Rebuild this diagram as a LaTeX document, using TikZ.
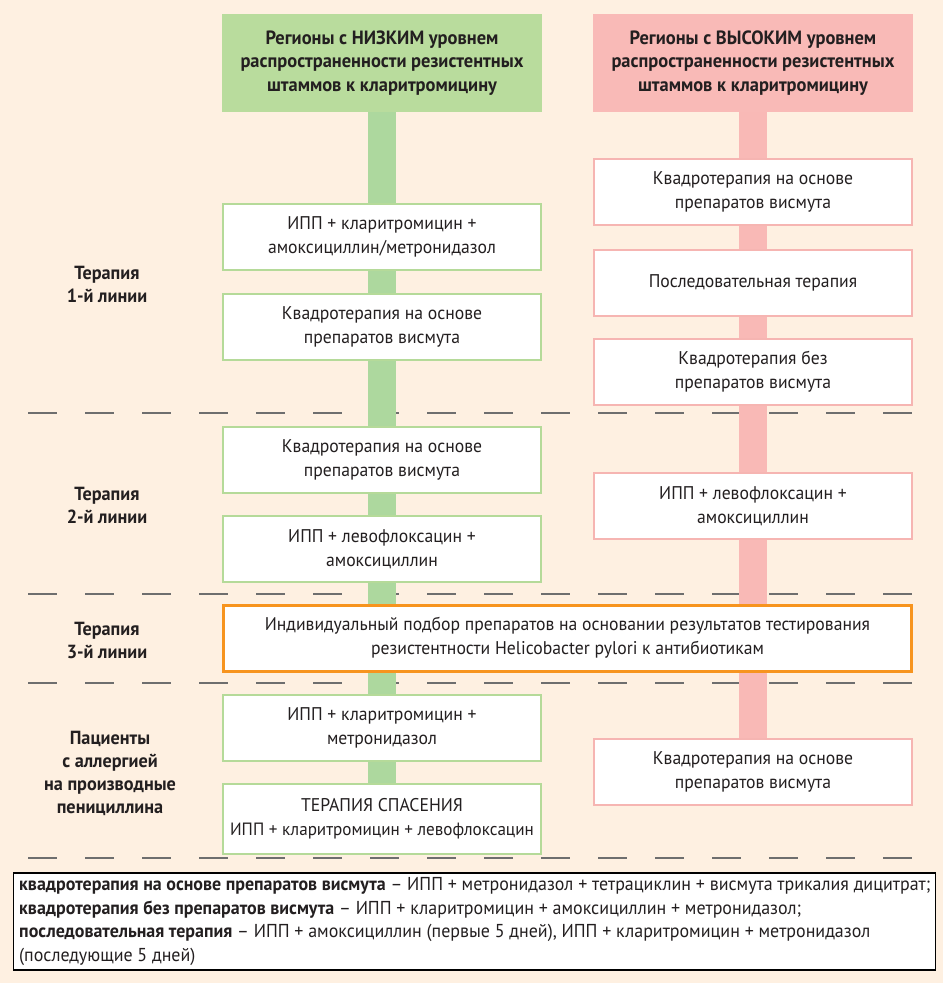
\documentclass[tikz,border=0pt]{standalone}
\usepackage{fontspec}
\setmainfont{PT Sans}[FakeStretch=0.96]
\definecolor{bgc}{HTML}{FEF0E1}
\definecolor{ghead}{HTML}{B9DC9D}
\definecolor{gbar}{HTML}{ADD89E}
\definecolor{gline}{HTML}{B5DA99}
\definecolor{rhead}{HTML}{F9BAB7}
\definecolor{rbar}{HTML}{F9B9B6}
\definecolor{rline}{HTML}{F6B5B2}
\definecolor{oline}{HTML}{F7941E}
\definecolor{txt}{HTML}{231F20}
\definecolor{dashc}{HTML}{6E6E6E}
\begin{document}
\begin{tikzpicture}[x=1pt,y=-1pt,
  every node/.style={text=txt, inner sep=0pt, align=center},
  head/.style={minimum width=320pt, minimum height=98pt, font=\fontsize{19.2}{23.2}\selectfont\bfseries},
  gbox/.style={draw=gline, line width=2pt, fill=white, minimum width=318pt, minimum height=66pt, font=\fontsize{18.4}{24}\selectfont},
  rbox/.style={draw=rline, line width=2pt, fill=white, minimum width=318pt, minimum height=66pt, font=\fontsize{18.4}{24}\selectfont},
  lab/.style={font=\fontsize{19}{23}\selectfont\bfseries},
  sep/.style={draw=dashc, line width=1.6pt, dash pattern=on 29pt off 28pt},
  gconn/.style={draw=gbar, line width=28pt},
  rconn/.style={draw=rbar, line width=28pt}]
\fill[bgc] (0,0) rectangle (943,983);
\useasboundingbox (0,0) rectangle (943,983);
% separators
\foreach \yy in {413,594,683,858} \draw[sep] (28,\yy) -- (914,\yy);
% headers
\node[head, fill=ghead] (gh) at (382,63) {Регионы с НИЗКИМ уровнем\\распространенности резистентных\\штаммов к кларитромицину};
\node[head, fill=rhead] (rh) at (753,63) {Регионы с ВЫСОКИМ уровнем\\распространенности резистентных\\штаммов к кларитромицину};
% green boxes
\node[gbox] (g1) at (382,237) {ИПП + кларитромицин +\\амоксициллин/метронидазол};
\node[gbox] (g2) at (382,327) {Квадротерапия на основе\\препаратов висмута};
\node[gbox] (g3) at (382,460) {Квадротерапия на основе\\препаратов висмута};
\node[gbox] (g4) at (382,549) {ИПП + левофлоксацин +\\амоксициллин};
\node[gbox] (g5) at (382,728) {ИПП + кларитромицин +\\метронидазол};
\node[gbox, minimum height=70pt] (g6) at (382,819) {ТЕРАПИЯ СПАСЕНИЯ\\{\fontsize{17.8}{24}\selectfont ИПП + кларитромицин + левофлоксацин}};
% red boxes
\node[rbox] (r1) at (753,192) {Квадротерапия на основе\\препаратов висмута};
\node[rbox] (r2) at (753,282.5) {Последовательная терапия};
\node[rbox] (r3) at (753,371.5) {Квадротерапия без\\препаратов висмута};
\node[rbox] (r4) at (753,506) {ИПП + левофлоксацин +\\амоксициллин};
\node[rbox] (r5) at (753,772) {Квадротерапия на основе\\препаратов висмута};
% orange box
\node[draw=oline, line width=3pt, fill=white, minimum width=688pt, minimum height=66pt, font=\fontsize{18.4}{24}\selectfont] (o) at (567.5,638) {Индивидуальный подбор препаратов на основании результатов тестирования\\резистентности Helicobacter pylori к антибиотикам};
% bars
\draw[gconn] (gh.south) -- (g1.north);
\draw[gconn] (g1.south) -- (g2.north);
\draw[gconn] (g2.south) -- (g3.north);
\draw[gconn] (g3.south) -- (g4.north);
\draw[gconn] (g4.south) -- (g4.south |- o.north);
\draw[gconn] (g5.north |- o.south) -- (g5.north);
\draw[gconn] (g5.south) -- (g6.north);
\draw[rconn] (rh.south) -- (r1.north);
\draw[rconn] (r1.south) -- (r2.north);
\draw[rconn] (r2.south) -- (r3.north);
\draw[rconn] (r3.south) -- (r4.north);
\draw[rconn] (r4.south) -- (r4.south |- o.north);
\draw[rconn] (r5.north |- o.south) -- (r5.north);
% left labels
\node[lab] (l1) at (107,284) {Терапия\\1-й линии};
\node[lab] (l2) at (107,505) {Терапия\\2-й линии};
\node[lab] (l3) at (107,640) {Терапия\\3-й линии};
\node[lab] (l4) at (110,773) {Пациенты\\с аллергией\\на производные\\пенициллина};
% legend
\node[draw=black, line width=1.5pt, fill=white, minimum width=922pt, minimum height=97pt, anchor=north west] (leg) at (12.5,872) {};
\node[anchor=north west, align=left, font=\fontsize{18.7}{23.7}\selectfont] (legt) at (19,877) {\textbf{квадротерапия на основе препаратов висмута} – ИПП + метронидазол + тетрациклин + висмута трикалия дицитрат;\\\textbf{квадротерапия без препаратов висмута} – ИПП + кларитромицин + амоксициллин + метронидазол;\\\textbf{последовательная терапия} – ИПП + амоксициллин (первые 5 дней), ИПП + кларитромицин + метронидазол\\(последующие 5 дней)};
\end{tikzpicture}
\end{document}
